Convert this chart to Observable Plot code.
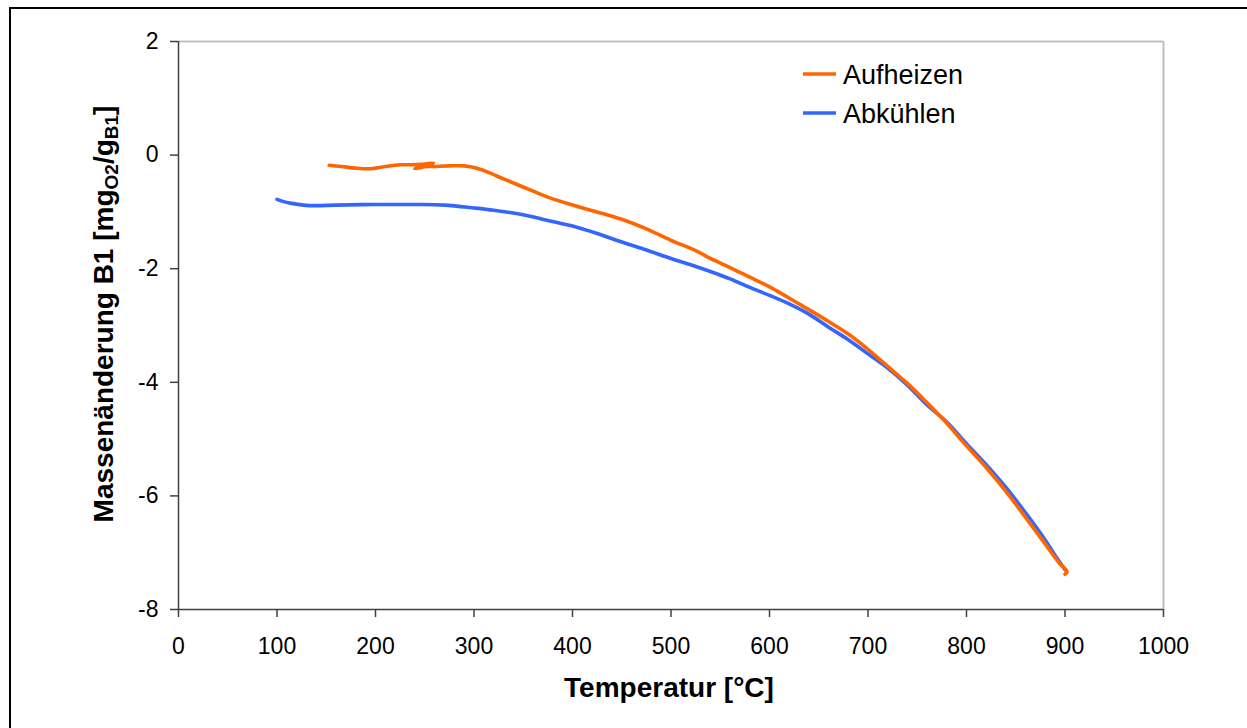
<!DOCTYPE html>
<html>
<head>
<meta charset="utf-8">
<script src="https://cdn.jsdelivr.net/npm/d3@7"></script>
<script src="https://cdn.jsdelivr.net/npm/@observablehq/plot@0.6"></script>
<style>
  html, body { margin: 0; padding: 0; background: #fff; overflow: hidden; }
  #wrap { position: relative; width: 1247px; height: 728px; }
  #frame { position: absolute; left: 9px; top: 7px; width: 1260px; height: 740px;
           border: 2px solid #000; box-sizing: border-box; pointer-events: none; }
  #chart { position: absolute; left: 0; top: 0; }
</style>
</head>
<body>
<div id="wrap">
  <div id="chart"></div>
  <div id="frame"></div>
</div>
<script>
// Heating run: temperature [°C], mass change [mg O2 / g B1]
const heatT = [153, 165, 180, 195, 210, 225, 235, 248, 259, 250, 240, 245, 260, 275, 290, 300, 314, 330, 354, 375,
               400, 425, 450, 475, 500, 525, 540, 560, 580, 600, 630, 660, 680, 700, 720, 740, 760, 780,
               800, 820, 840, 860, 880, 895, 900, 902, 900];
const heatV = [-0.18, -0.20, -0.23, -0.24, -0.20, -0.17, -0.17, -0.16, -0.14, -0.20, -0.24, -0.21, -0.20, -0.19, -0.19, -0.22, -0.30, -0.42, -0.59, -0.74,
               -0.88, -1.00, -1.13, -1.30, -1.50, -1.68, -1.82, -1.98, -2.15, -2.32, -2.62, -2.93, -3.15, -3.42, -3.72, -4.02, -4.36, -4.72,
               -5.12, -5.50, -5.92, -6.38, -6.85, -7.20, -7.28, -7.34, -7.38];

// Cooling run
const coolT = [900, 890, 880, 860, 840, 820, 800, 780, 760, 740, 720, 700, 680, 660, 640, 620, 600, 580, 560, 540,
               520, 500, 475, 450, 425, 400, 375, 350, 320, 300, 270, 240, 200, 160, 140, 127, 115, 105, 100];
const coolV = [-7.30, -7.05, -6.78, -6.30, -5.85, -5.45, -5.08, -4.70, -4.40, -4.05, -3.75, -3.50, -3.25, -3.03, -2.80, -2.62, -2.47, -2.33, -2.18, -2.05,
               -1.93, -1.82, -1.67, -1.53, -1.38, -1.25, -1.15, -1.05, -0.97, -0.93, -0.88, -0.87, -0.87, -0.88, -0.89, -0.88, -0.85, -0.81, -0.78];

const xTicks = [0, 100, 200, 300, 400, 500, 600, 700, 800, 900, 1000];
const yTicks = [-8, -6, -4, -2, 0, 2];

const seriesNames = ["Aufheizen", "Abkühlen"];
const seriesColors = ["#FF6600", "#3366FF"];

const heat = heatT.map((t, i) => ({t, v: heatV[i]}));
const cool = coolT.map((t, i) => ({t, v: coolV[i]}));

const W = 1247, H = 728;
const mL = 178, mR = 84, mT = 41, mB = 119;
const plain = d => String(d);

const chart = Plot.plot({
  width: W,
  height: H,
  marginLeft: mL,
  marginRight: mR,
  marginTop: mT,
  marginBottom: mB,
  style: {fontFamily: "'Liberation Sans', Arial, sans-serif", fontSize: "23px", color: "#000", background: "transparent"},
  x: {domain: [0, 1000]},
  y: {domain: [-8, 2]},
  marks: [
    // plot area outline (top and right)
    Plot.ruleY([2], {stroke: "#c0c0c0", strokeWidth: 2}),
    Plot.ruleX([1000], {stroke: "#c0c0c0", strokeWidth: 2}),
    Plot.axisX(xTicks, {tickSize: 8, tickPadding: 20, tickFormat: plain, stroke: "#404040", strokeWidth: 1.5, fill: "#000", label: null}),
    Plot.axisY(yTicks, {tickSize: 8, tickPadding: 12, tickFormat: plain, stroke: "#404040", strokeWidth: 1.5, fill: "#000", label: null}),
    Plot.ruleX([0], {stroke: "#404040", strokeWidth: 1.5}),
    Plot.ruleY([-8], {stroke: "#404040", strokeWidth: 1.5}),
    Plot.line(cool, {x: "t", y: "v", stroke: seriesColors[1], strokeWidth: 3.6, curve: "catmull-rom"}),
    Plot.line(heat, {x: "t", y: "v", stroke: seriesColors[0], strokeWidth: 3.6, curve: "catmull-rom"})
  ]
});

document.getElementById("chart").appendChild(chart);

const svg = d3.select(chart);
const font = "'Liberation Sans', Arial, sans-serif";

// x axis title
svg.append("text")
  .attr("x", 669).attr("y", 697)
  .attr("text-anchor", "middle")
  .attr("font-family", font).attr("font-size", 28).attr("font-weight", "bold")
  .text("Temperatur [°C]");

// y axis title with subscripts
const yt = svg.append("text")
  .attr("transform", "translate(113,314) rotate(-90)")
  .attr("text-anchor", "middle")
  .attr("font-family", font).attr("font-size", 28).attr("font-weight", "bold");
yt.append("tspan").text("Massenänderung B1 [mg");
yt.append("tspan").attr("font-size", 19).attr("dy", 5).text("O2");
yt.append("tspan").attr("dy", -5).text("/g");
yt.append("tspan").attr("font-size", 19).attr("dy", 5).text("B1");
yt.append("tspan").attr("dy", -5).text("]");

// legend
const legend = svg.append("g")
  .attr("font-family", font).attr("font-size", 27).attr("text-anchor", "start");
seriesNames.forEach((name, i) => {
  const y = 74 + i * 39;
  legend.append("line")
    .attr("x1", 803).attr("x2", 836).attr("y1", y).attr("y2", y)
    .attr("stroke", seriesColors[i]).attr("stroke-width", 3.6);
  legend.append("text")
    .attr("x", 843).attr("y", y).attr("dy", "0.36em")
    .attr("fill", "#000")
    .text(name);
});
</script>
</body>
</html>
